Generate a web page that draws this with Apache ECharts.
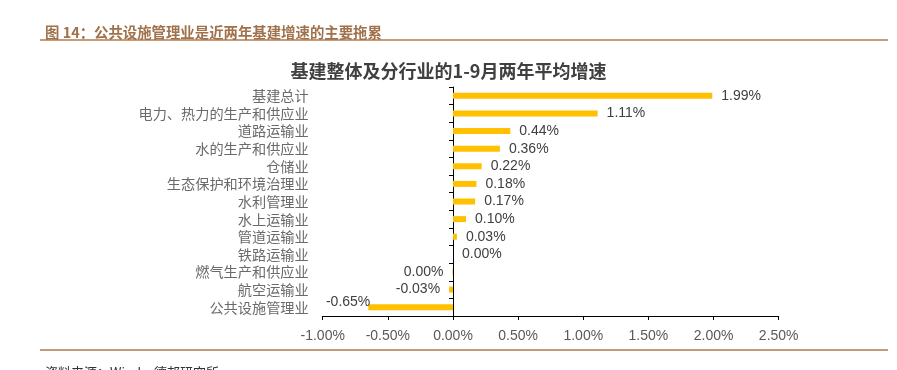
<!DOCTYPE html>
<html>
<head>
<meta charset="utf-8">
<script src="https://cdn.jsdelivr.net/npm/echarts@6/dist/echarts.min.js"></script>
<style>
html,body{margin:0;padding:0;background:#fff;}
#c{width:897px;height:370px;}
</style>
</head>
<body>
<div id="c"></div>
<script>
var categories = ['基建总计','电力、热力的生产和供应业','道路运输业','水的生产和供应业','仓储业','生态保护和环境治理业','水利管理业','水上运输业','管道运输业','铁路运输业','燃气生产和供应业','航空运输业','公共设施管理业'];
var values = [1.99, 1.11, 0.44, 0.36, 0.22, 0.18, 0.17, 0.10, 0.03, 0.00, -0.004, -0.03, -0.65];
var xTicks = {min: -1, max: 2.5, interval: 0.5};
var headerText = '图 14：公共设施管理业是近两年基建增速的主要拖累';
var chartTitle = '基建整体及分行业的1-9月两年平均增速';
var sourceText = '资料来源：Wind，德邦研究所';

function pct(v){ return (Math.round(v*100)/100).toFixed(2) + '%'; }

var chart = echarts.init(document.getElementById('c'), null, {renderer:'canvas'});
var barData = values.map(function(v){
  var item = {value: v, label: {position: v < 0 ? 'left' : 'right'}};
  if (v < -0.3) { item.label.offset = [4, -5]; item.label.distance = 2; }
  return item;
});
chart.setOption({
  animation: false,
  title: [
    {text: headerText, left: 40, top: 20, textStyle:{fontSize:14.4, fontWeight:'bold', color:'#a0714a', fontFamily:'Noto Sans CJK SC'}},
    {text: chartTitle, left: 'center', top: 57, textStyle:{fontSize:18, fontWeight:'bold', color:'#404040', fontFamily:'Noto Sans CJK SC'}},
    {text: sourceText, left: 40, top: 361, textStyle:{fontSize:13, fontWeight:'normal', color:'#333', fontFamily:'Noto Sans CJK SC'}}
  ],
  graphic: [
    {type:'line', shape:{x1:40, y1:40, x2:888, y2:40}, style:{stroke:'#b07a4e', lineWidth:1.5}},
    {type:'line', shape:{x1:40, y1:350, x2:888, y2:350}, style:{stroke:'#b07a4e', lineWidth:1.5}}
  ],
  grid: {left: 322.7, right: 118.3, top: 87, bottom: 54, containLabel: false},
  xAxis: {
    type: 'value', min: xTicks.min, max: xTicks.max, interval: xTicks.interval,
    splitLine: {show:false},
    axisLine: {show:true, lineStyle:{color:'#000', width:1}},
    axisTick: {show:true, length:4, lineStyle:{color:'#000'}},
    axisLabel: {margin: 13, color:'#595959', fontSize:14, fontFamily:'Liberation Sans', formatter: function(v){ return pct(v); }}
  },
  yAxis: [
    {type:'category', data: categories, inverse: true, position:'left',
     axisLine:{show:false, onZero:false}, axisTick:{show:false},
     axisLabel:{interval:0, hideOverlap:false, margin:14, color:'#6a6a6a', fontSize:14.2, fontFamily:'Noto Sans CJK SC'}},
    {type:'category', data: categories, inverse: true, position:'left',
     axisLine:{show:true, onZero:true, lineStyle:{color:'#000', width:1}},
     axisTick:{show:true, interval:0, length:4, lineStyle:{color:'#000'}},
     axisLabel:{show:false}}
  ],
  series: [{
    type: 'bar', yAxisIndex: 0, data: barData, barWidth: 6,
    itemStyle: {color: '#FFC000'},
    label: {show: true, distance: 9, color:'#404040', fontSize:14, fontFamily:'Liberation Sans', formatter: function(p){ return pct(p.value); }}
  }]
});
</script>
</body>
</html>
